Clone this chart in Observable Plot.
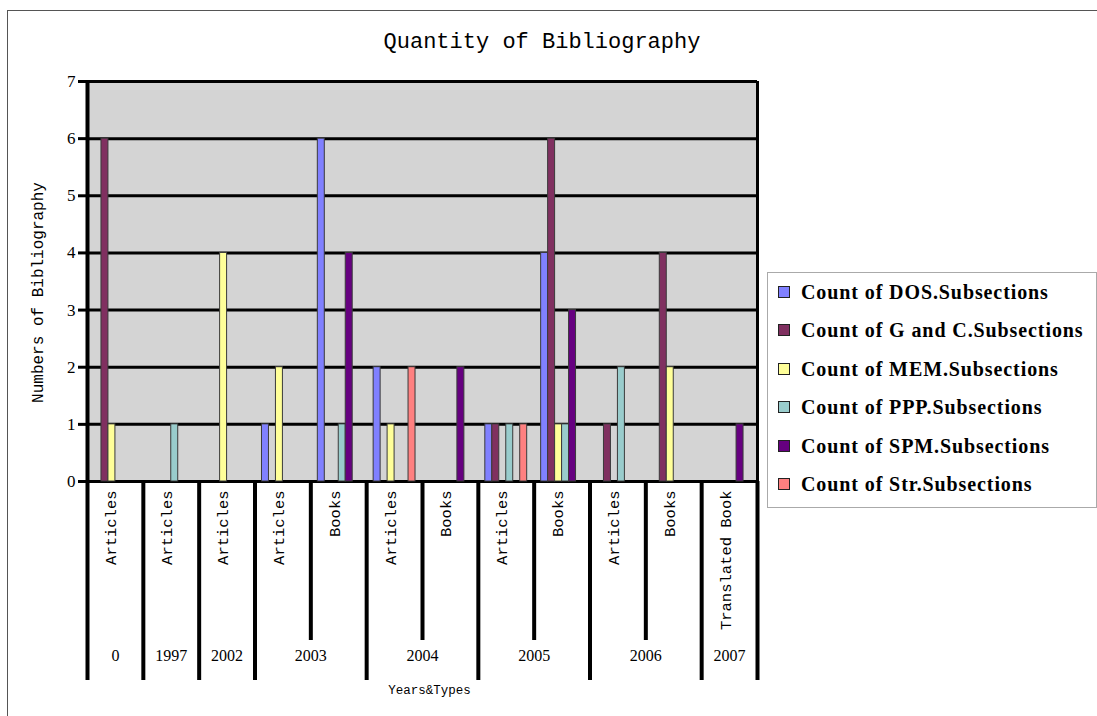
<!DOCTYPE html>
<html>
<head>
<meta charset="utf-8">
<script src="https://cdn.jsdelivr.net/npm/d3@7"></script>
<script src="https://cdn.jsdelivr.net/npm/@observablehq/plot@0.6"></script>
<style>
  html, body { margin: 0; padding: 0; background: #fff; }
  #wrap { position: relative; width: 1097px; height: 716px; overflow: hidden; background: #fff; }
  #outer { position: absolute; left: 7px; top: 10px; width: 1200px; height: 800px;
           border-top: 1.5px solid #555; border-left: 1.5px solid #555; }
  #title { position: absolute; left: 0; top: 30px; width: 1084px; text-align: center;
           font: 22px "Liberation Mono", monospace; line-height: 26px; color: #000; }
  #chart { position: absolute; left: 0; top: 0; }
  #legend { position: absolute; left: 767px; top: 272px; width: 328px; height: 234px;
            border: 1px solid #aaa; background: #fff; }
  .item { position: absolute; left: 0; height: 24px; line-height: 24px;
          font: bold 20px "Liberation Serif", serif; letter-spacing: 0.9px; color: #000; white-space: nowrap; }
  .sw { position: absolute; left: 10px; top: 5px; width: 10px; height: 10px; border: 1px solid #222; }
  .lab { position: absolute; left: 33px; top: 0; }
</style>
</head>
<body>
<div id="wrap">
  <div id="outer"></div>
  <div id="chart"></div>
  <div id="title">Quantity of Bibliography</div>
  <div id="legend"></div>
</div>
<script>
// ---- data ----
const years = ["0", "1997", "2002", "2003", "2003", "2004", "2004", "2005", "2005", "2006", "2006", "2007"];
const types = ["Articles", "Articles", "Articles", "Articles", "Books", "Articles", "Books", "Articles", "Books", "Articles", "Books", "Translated Book"];
const seriesNames = [
  "Count of DOS.Subsections",
  "Count of G and C.Subsections",
  "Count of MEM.Subsections",
  "Count of PPP.Subsections",
  "Count of SPM.Subsections",
  "Count of Str.Subsections"
];
const seriesColors = ["#8080FF", "#803060", "#FFFF99", "#99CCCC", "#660080", "#FF8080"];
const dos = [0, 0, 0, 1, 6, 2, 0, 1, 4, 0, 0, 0];
const gandc = [6, 0, 0, 0, 0, 0, 0, 1, 6, 1, 4, 0];
const mem = [1, 0, 4, 2, 0, 1, 0, 0, 1, 0, 2, 0];
const ppp = [0, 1, 0, 0, 1, 0, 0, 1, 1, 2, 0, 0];
const spm = [0, 0, 0, 0, 4, 0, 2, 0, 3, 0, 0, 1];
const str = [0, 0, 0, 0, 0, 2, 0, 1, 0, 0, 0, 0];
const yTicks = [0, 1, 2, 3, 4, 5, 6, 7];
const yTitle = "Numbers of Bibliography";
const xTitle = "Years&Types";

// ---- derived tables ----
const seriesValues = [dos, gandc, mem, ppp, spm, str];
const slots = seriesNames.length + 2; // one empty slot each side of a group
const bars = [];
seriesValues.forEach((vals, s) => vals.forEach((v, i) => {
  if (v > 0) bars.push({i, s, series: seriesNames[s], value: v});
}));
const cats = types.map((t, i) => ({i, type: t, year: years[i]}));
const yearGroups = [];
cats.forEach(c => {
  const g = yearGroups[yearGroups.length - 1];
  if (g && g.year === c.year) g.end = c.i + 1;
  else yearGroups.push({year: c.year, start: c.i, end: c.i + 1});
});
const yearBounds = [0, ...yearGroups.map(g => g.end)];
const typeBounds = cats.filter((c, k) => k > 0 && cats[k - 1].year === c.year).map(c => c.i);

const chart = Plot.plot({
  width: 1097,
  height: 716,
  marginLeft: 87,
  marginRight: 340,
  marginTop: 81,
  marginBottom: 235,
  x: {domain: [0, types.length]},
  y: {domain: [0, 7]},
  color: {domain: seriesNames, range: seriesColors},
  style: {background: "transparent"},
  marks: [
    Plot.frame({fill: "#D4D4D4", stroke: null}),
    Plot.ruleY(yTicks, {stroke: "#000", strokeWidth: 3}),
    Plot.rectY(bars, {
      x1: d => d.i + (1 + d.s) / slots,
      x2: d => d.i + (2 + d.s) / slots,
      y: "value",
      fill: "series",
      stroke: "#3a3a3a",
      strokeWidth: 1
    }),
    Plot.ruleX([0], {stroke: "#000", strokeWidth: 4}),
    Plot.ruleX([types.length], {stroke: "#000", strokeWidth: 3}),
    Plot.axisY({
      ticks: yTicks, tickSize: 9, tickPadding: 3, strokeWidth: 3, stroke: "#000",
      tickFormat: d => String(d), label: null,
      fontSize: 17, fontFamily: "Liberation Serif", color: "#000"
    }),
    Plot.axisX({ticks: yearBounds, tickSize: 199, strokeWidth: 4, stroke: "#000", tickFormat: () => "", label: null}),
    Plot.axisX({ticks: typeBounds, tickSize: 159, strokeWidth: 4, stroke: "#000", tickFormat: () => "", label: null}),
    Plot.text(cats, {
      x: d => d.i + 0.5, text: "type", frameAnchor: "bottom", rotate: -90,
      textAnchor: "end", dy: 9, dx: 1, fontSize: 15.5, fontFamily: "Liberation Mono", fill: "#000"
    }),
    Plot.text(yearGroups, {
      x: d => (d.start + d.end) / 2, text: "year", frameAnchor: "bottom",
      dy: 179, fontSize: 16, fontFamily: "Liberation Serif", fill: "#000"
    }),
    Plot.text([xTitle], {
      text: d => d, frameAnchor: "bottom", dy: 212, dx: 7,
      fontSize: 12.5, fontFamily: "Liberation Mono", fill: "#000"
    }),
    Plot.text([yTitle], {
      text: d => d, frameAnchor: "left", textAnchor: "middle", rotate: -90, dx: -50, dy: 11,
      fontSize: 16, fontFamily: "Liberation Mono", fill: "#000"
    })
  ]
});
document.getElementById("chart").appendChild(chart);

// ---- legend ----
const legend = document.getElementById("legend");
seriesNames.forEach((name, k) => {
  const item = document.createElement("div");
  item.className = "item";
  item.style.top = (8 + k * 38.4) + "px";
  const sw = document.createElement("div");
  sw.className = "sw";
  sw.style.background = seriesColors[k];
  const lab = document.createElement("div");
  lab.className = "lab";
  lab.textContent = name;
  item.appendChild(sw);
  item.appendChild(lab);
  legend.appendChild(item);
});
</script>
</body>
</html>
